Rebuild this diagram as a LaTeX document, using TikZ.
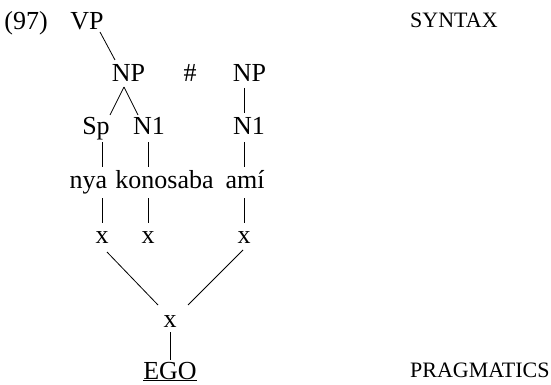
\documentclass[tikz,border=0pt]{standalone}
\usepackage{fontspec}
\setmainfont{Liberation Serif}
\usetikzlibrary{calc}
\begin{document}
\begin{tikzpicture}[x=1pt,y=-1pt,
  lbl/.style={inner sep=0pt, anchor=base, font=\fontsize{26}{30}\selectfont},
  side/.style={inner sep=0pt, anchor=base west, font=\fontsize{22}{26}\selectfont},
  branch/.style={line width=0.8pt}]
\useasboundingbox (0,0) rectangle (551,385);
% nodes
\node[lbl] (num) at (26,30) {(97)};
\node[lbl] (vp) at (87,30) {VP};
\node[side] (syn) at (410,28) {SYNTAX};
\node[lbl] (np) at (128.5,82) {NP};
\node[lbl] (hash) at (190,82) {\#};
\node[lbl] (np2) at (249.5,82) {NP};
\node[lbl] (sp) at (96,135) {Sp};
\node[lbl] (n1) at (149,135) {N1};
\node[lbl] (n1b) at (249,135) {N1};
\node[lbl] (nya) at (88.5,188) {nya};
\node[lbl] (kono) at (164.5,188) {konosaba};
\node[lbl] (ami) at (245,188) {amí};
\node[lbl] (x1) at (102,243) {x};
\node[lbl] (x2) at (148,243) {x};
\node[lbl] (x3) at (244,243) {x};
\node[lbl] (x0) at (170,327) {x};
\node[lbl] (ego) at (170,379) {\underline{EGO}};
\node[side] (prag) at (410,377) {PRAGMATICS};
% connectors
\draw[branch] ($(vp.base)+(13,2)$) -- ($(np.base)+(-13.5,-22)$);
\draw[branch] ($(np.base)+(-4.5,5)$) -- ($(sp.base)+(14,-20)$);
\draw[branch] ($(np.base)+(-4.5,5)$) -- ($(n1.base)+(-11,-20)$);
\draw[branch] ($(np2.base)+(-5.5,6)$) -- ($(n1b.base)+(-5,-22)$);
\draw[branch] ($(sp.base)+(6,7)$) -- ($(nya.base)+(13.5,-21)$);
\draw[branch] ($(n1.base)+(-1,7)$) -- ($(kono.base)+(-16.5,-21)$);
\draw[branch] ($(n1b.base)+(-5,7)$) -- ($(ami.base)+(-1,-21)$);
\draw[branch] ($(nya.base)+(13.5,10)$) -- ($(x1.base)+(0,-20)$);
\draw[branch] ($(kono.base)+(-16.5,10)$) -- ($(x2.base)+(0,-20)$);
\draw[branch] ($(ami.base)+(-1,10)$) -- ($(x3.base)+(0,-20)$);
\draw[branch] ($(x1.base)+(5,9)$) -- ($(x0.base)+(-12,-22)$);
\draw[branch] ($(x3.base)+(-1,7)$) -- ($(x0.base)+(18,-22)$);
\draw[branch] ($(x0.base)+(0,5)$) -- ($(ego.base)+(0,-19)$);
\end{tikzpicture}
\end{document}
